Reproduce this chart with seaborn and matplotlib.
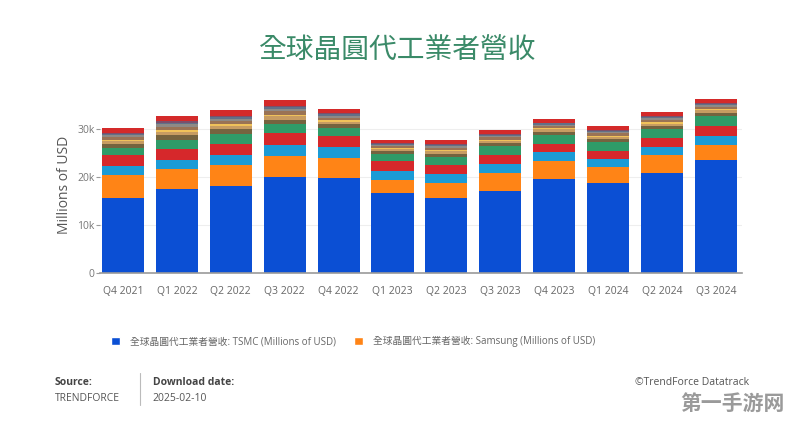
"""
全球晶圓代工業者營收 - stacked bar chart
"""

import matplotlib
matplotlib.use("Agg")
import matplotlib.pyplot as plt
from matplotlib.patches import Patch
import seaborn as sns
import numpy as np

quarters = ['Q4 2021', 'Q1 2022', 'Q2 2022', 'Q3 2022', 'Q4 2022', 'Q1 2023',
            'Q2 2023', 'Q3 2023', 'Q4 2023', 'Q1 2024', 'Q2 2024', 'Q3 2024']

# Millions of USD, bottom to top
tsmc = [15660, 17540, 18090, 20040, 19900, 16700, 15660, 17190, 19620, 18790, 20880, 23520]
samsung = [4870, 4240, 4460, 4450, 4180, 2780, 3130, 3690, 3690, 3340, 3820, 3270]
third = [1880, 1740, 2020, 2230, 2160, 1880, 1880, 1880, 1950, 1670, 1600, 1880]
fourth = [2160, 2370, 2430, 2500, 2300, 1950, 1950, 1950, 1670, 1600, 1880, 1950]
fifth = [1530, 1950, 2020, 1810, 1670, 1530, 1530, 1740, 1950, 1950, 1880, 2090]
sixth = [850, 1000, 1000, 1000, 850, 600, 750, 700, 650, 650, 700, 750]
seventh = [550, 650, 650, 650, 550, 400, 500, 450, 450, 450, 450, 500]
eighth = [300, 350, 350, 350, 300, 200, 250, 250, 250, 250, 250, 250]
ninth = [600, 700, 700, 700, 550, 450, 500, 500, 450, 450, 500, 500]
tenth = [400, 500, 500, 500, 400, 300, 350, 300, 300, 300, 350, 350]
eleventh = [300, 350, 350, 350, 300, 200, 250, 250, 250, 250, 250, 250]
twelfth = [220, 250, 250, 250, 200, 150, 190, 160, 170, 170, 180, 170]
thirteenth = [950, 1140, 1200, 1200, 890, 700, 900, 800, 750, 750, 800, 850]

legend_labels = ['全球晶圓代工業者營收: TSMC (Millions of USD)',
                 '全球晶圓代工業者營收: Samsung (Millions of USD)']

series = [tsmc, samsung, third, fourth, fifth, sixth, seventh, eighth,
          ninth, tenth, eleventh, twelfth, thirteenth]
colors = ['#0b4fd4', '#ff8416', '#1b9bd6', '#d6282b', '#2f9b68', '#75633f',
          '#c79c62', '#f0c25a', '#9a7355', '#8e8a86', '#627088', '#7c4f6a',
          '#d42a2a']

sns.set_theme(style="white")
plt.rcParams['font.family'] = ['Open Sans', 'Noto Sans CJK TC', 'DejaVu Sans']

fig = plt.figure(figsize=(7.96, 4.22), dpi=100)
ax = fig.add_axes([0.126, 0.353, 0.806, 0.42])

bottom = np.zeros(len(quarters))
for vals, col in zip(series, colors):
    sns.barplot(x=quarters, y=vals, bottom=bottom, color=col, width=0.78,
                saturation=1, linewidth=0, ax=ax)
    bottom = bottom + np.array(vals)

ax.set_xlim(-0.42, 11.48)
ax.set_ylim(0, 37000)
ax.set_yticks([0, 10000, 20000, 30000])
ax.set_yticklabels(['0', '10k', '20k', '30k'])
ax.yaxis.grid(True, color='#eeeeee', linewidth=0.8)
ax.set_axisbelow(True)
for s in ['top', 'right', 'left']:
    ax.spines[s].set_visible(False)
ax.spines['bottom'].set_color('#9a9a9a')
ax.spines['bottom'].set_linewidth(1.2)
ax.tick_params(axis='y', labelsize=7.5, colors='#777777', length=3, width=0.8,
               left=True, pad=1)
ax.tick_params(axis='y', color='#999999')
ax.tick_params(axis='x', labelsize=7.5, colors='#666666', length=0, pad=9)
ax.set_ylabel('Millions of USD', fontsize=10, color='#555555', labelpad=4)
ax.set_xlabel('')

fig.text(0.5, 0.88, '全球晶圓代工業者營收', fontsize=20, color='#3a8a68',
         ha='center', va='center')

handles = [Patch(facecolor=colors[0]), Patch(facecolor=colors[1])]
fig.legend(handles, legend_labels, loc='center left', bbox_to_anchor=(0.128, 0.19),
           ncol=2, frameon=False, fontsize=7, handlelength=1.0, handleheight=1.0,
           columnspacing=1.8, handletextpad=1.0, labelcolor='#666666')

# footer
fig.text(0.069, 0.094, 'Source:', fontsize=7.5, fontweight='bold', color='#444444', va='center')
fig.text(0.069, 0.056, 'TRENDFORCE', fontsize=7.5, color='#555555', va='center')
fig.add_artist(plt.Line2D([0.176, 0.176], [0.04, 0.115], color='#bbbbbb', linewidth=0.8))
fig.text(0.192, 0.094, 'Download date:', fontsize=7.5, fontweight='bold', color='#444444', va='center')
fig.text(0.192, 0.056, '2025-02-10', fontsize=7.5, color='#555555', va='center')
fig.text(0.798, 0.094, '©TrendForce Datatrack', fontsize=7.5, color='#555555', va='center')
fig.text(0.92, 0.045, '第一手游网', fontsize=15, fontweight='bold', color='#9a9a9a',
         ha='center', va='center', family=['Noto Sans CJK SC', 'DejaVu Sans'])

fig.savefig('out.png', dpi=100, facecolor='white')
